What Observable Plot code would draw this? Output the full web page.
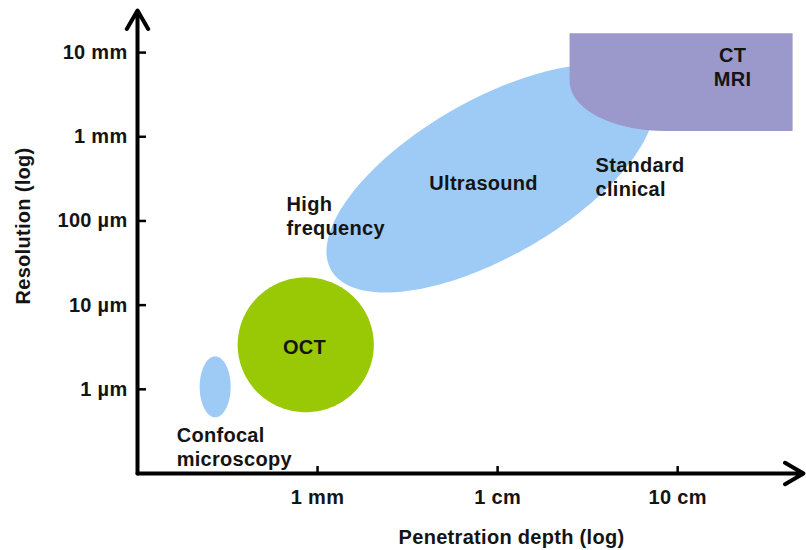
<!DOCTYPE html>
<html><head><meta charset="utf-8">
<script src="https://cdn.jsdelivr.net/npm/d3@7"></script>
<script src="https://cdn.jsdelivr.net/npm/@observablehq/plot@0.6"></script>
<style>
html,body{margin:0;padding:0;background:#fff;}
#chart svg{display:block;}
#chart svg text{font-family:"Liberation Sans",Arial,Helvetica,sans-serif;font-weight:bold;font-size:20px;letter-spacing:0.3px;fill:#141414;}
</style></head><body><div id="chart"></div>
<script>
// ---- data (depth in mm, resolution in µm, both log scales) ----
const depthTickValuesMm = [1, 10, 100];
const depthTickLabels = ["1 mm", "1 cm", "10 cm"];
const resTickValuesUm = [1, 10, 100, 1000, 10000];
const resTickLabels = ["1 µm", "10 µm", "100 µm", "1 mm", "10 mm"];

const modalityNames = ["Ultrasound", "OCT", "Confocal microscopy"];
const centerDepthMm = [9.13, 0.86, 0.27];
const centerResUm = [319, 3.38, 1.07];
const halfSpanDepthDecades = [0.911, 0.378, 0.086];
const halfSpanResDecades = [1.354, 0.801, 0.362];
const tiltCorrelation = [0.64, 0, 0];

const ctMriDepthMm = [25.1, 435];
const ctMriResUm = [1170, 17000];
const ctMriCornerDecades = [0.528, 0.594];

const startLabels = ["High\nfrequency", "Standard\nclinical", "Confocal\nmicroscopy"];
const startLabelDepthMm = [0.673, 35.0, 0.165];
const startLabelResUm = [212, 605, 0.382];
const centerLabels = ["Ultrasound", "OCT", "CT\nMRI"];
const centerLabelDepthMm = [8.36, 0.847, 202];
const centerLabelResUm = [374, 4.21, 12250];

const depthDomain = [0.1, 500];
const resDomain = [0.1, 31623];

// ---- styles ----
const modalityColors = ["#9ecbf5", "#99c805", "#9ecbf5"];
const ctColor = "#9b99cc";

// ---- derived geometry (in data space) ----
const ellipsePts = modalityNames.flatMap((name, i) =>
  d3.range(0, 360, 2).map(deg => {
    const t = deg * Math.PI / 180;
    return {
      name,
      depth: centerDepthMm[i] * 10 ** (halfSpanDepthDecades[i] * Math.cos(t)),
      res: centerResUm[i] * 10 ** (halfSpanResDecades[i] * Math.cos(t + Math.acos(tiltCorrelation[i])))
    };
  })
);

const [d0, d1] = ctMriDepthMm, [r0, r1] = ctMriResUm, [cd, cr] = ctMriCornerDecades;
const cDepth = d0 * 10 ** cd, cRes = r0 * 10 ** cr;
const ctPts = [
  {depth: d0, res: r1}, {depth: d1, res: r1}, {depth: d1, res: r0},
  ...d3.range(-90, -181, -5).map(a => {
    const t = a * Math.PI / 180;
    return {depth: cDepth * 10 ** (cd * Math.cos(t)), res: cRes * 10 ** (cr * Math.sin(t))};
  })
];

const startLab = startLabels.map((text, i) => ({text, depth: startLabelDepthMm[i], res: startLabelResUm[i]}));
const centerLab = centerLabels.map((text, i) => ({text, depth: centerLabelDepthMm[i], res: centerLabelResUm[i]}));
const axesData = [
  {x1: depthDomain[0], y1: resDomain[0], x2: depthDomain[0], y2: resDomain[1]},
  {x1: depthDomain[0], y1: resDomain[0], x2: depthDomain[1], y2: resDomain[0]}
];
const depthLabel = new Map(depthTickValuesMm.map((v, i) => [v, depthTickLabels[i]]));
const resLabel = new Map(resTickValuesUm.map((v, i) => [v, resTickLabels[i]]));

const chart = Plot.plot({
  width: 806,
  height: 550,
  marginLeft: 137,
  marginRight: 3,
  marginTop: 10,
  marginBottom: 77,
  style: {fontFamily: '"Liberation Sans", Arial, sans-serif', fontSize: "20px", fontWeight: "bold", background: "#fff"},
  x: {type: "log", domain: depthDomain},
  y: {type: "log", domain: resDomain},
  color: {domain: modalityNames, range: modalityColors},
  marks: [
    Plot.line(ellipsePts, {x: "depth", y: "res", z: "name", fill: "name", stroke: "none", curve: "linear-closed"}),
    Plot.line(ctPts, {x: "depth", y: "res", fill: ctColor, stroke: "none", curve: "linear-closed"}),
    Plot.axisY(resTickValuesUm, {anchor: "left", tickSize: -9, strokeWidth: 2.5, stroke: "#000", tickFormat: () => "", label: null}),
    Plot.axisY(resTickValuesUm, {anchor: "left", tickSize: 0, tickPadding: 10, tickFormat: d => resLabel.get(d), label: null}),
    Plot.axisX(depthTickValuesMm, {anchor: "bottom", tickSize: -7, strokeWidth: 2.5, stroke: "#000", tickFormat: () => "", label: null}),
    Plot.axisX(depthTickValuesMm, {anchor: "bottom", tickSize: 0, tickPadding: 16, tickFormat: d => depthLabel.get(d), label: null}),
    Plot.arrow(axesData, {x1: "x1", y1: "y1", x2: "x2", y2: "y2", stroke: "#000", strokeWidth: 4, headLength: 8, headAngle: 60}),
    Plot.text(startLab, {x: "depth", y: "res", text: "text", textAnchor: "start", lineAnchor: "top", lineHeight: 1.2}),
    Plot.text(centerLab, {x: "depth", y: "res", text: "text", textAnchor: "middle", lineAnchor: "top", lineHeight: 1.2}),
    Plot.text(["Penetration depth (log)"], {frameAnchor: "bottom", text: d => d, dx: 41, dy: 56, lineAnchor: "top"}),
    Plot.text(["Resolution (log)"], {frameAnchor: "left", text: d => d, rotate: -90, dx: -114, dy: -16, textAnchor: "middle", lineAnchor: "middle"})
  ]
});
document.getElementById("chart").appendChild(chart);
</script></body></html>
